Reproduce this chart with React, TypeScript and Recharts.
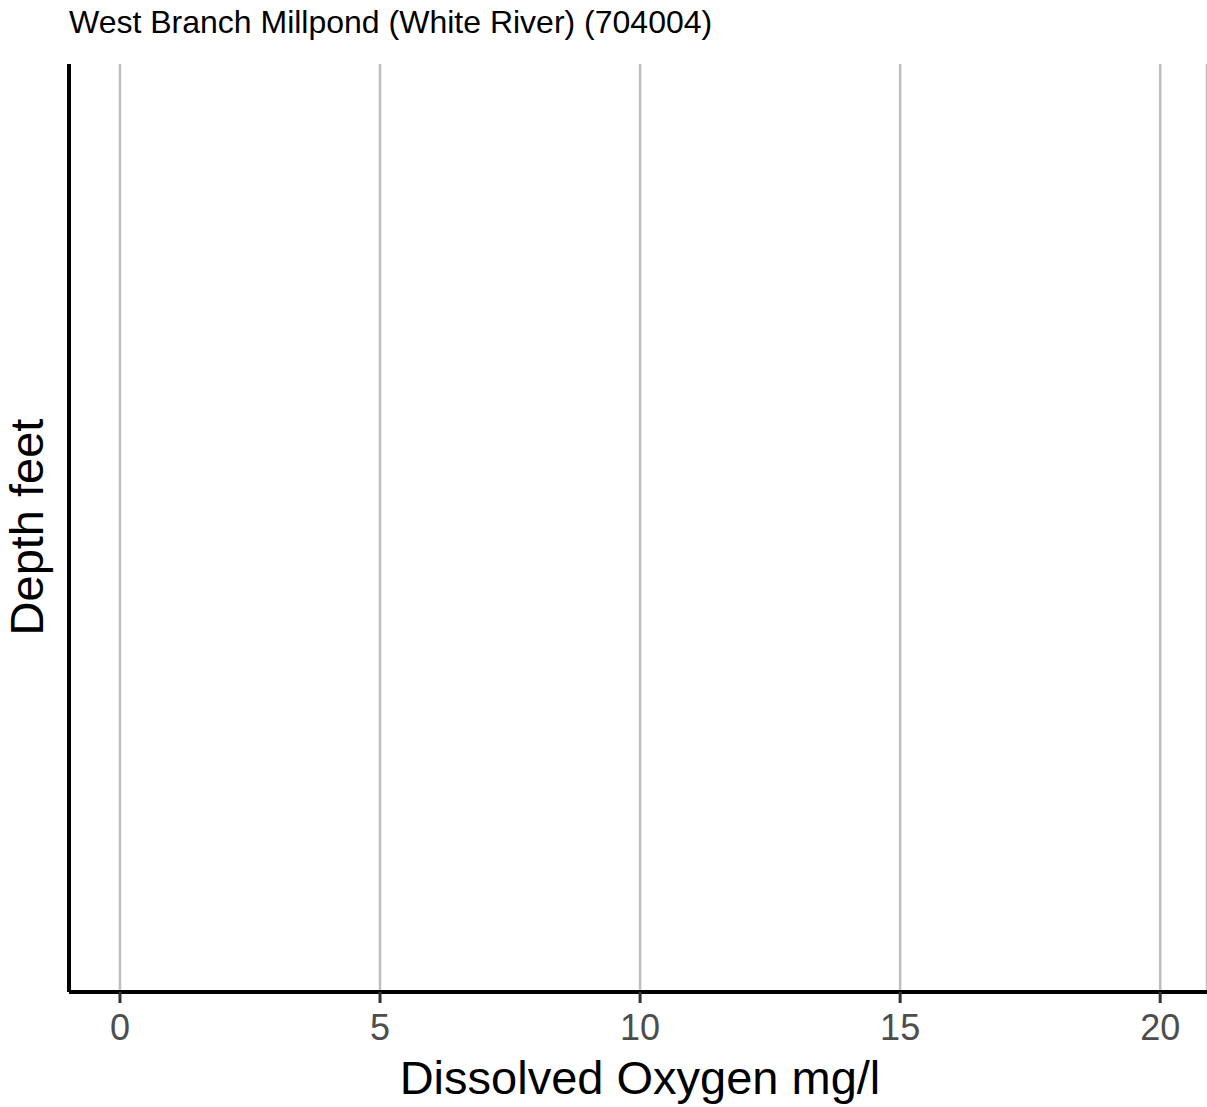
import { ScatterChart, Scatter, XAxis, YAxis, CartesianGrid } from "recharts";

// station profile: no measurements recorded for this site
const depthProfile: { oxygen: number; depth: number }[] = [];
const oxygenTicks = [0, 5, 10, 15, 20];
const oxygenDomain = [-0.98, 20.9];
const depthDomain = [0, 1];

const chartTitle = "West Branch Millpond (White River) (704004)";
const xTitle = "Dissolved Oxygen mg/l";
const yTitle = "Depth feet";

const font = "'Liberation Sans', Arial, Helvetica, sans-serif";

export default function App() {
    return (
        <div style={{ position: "absolute", left: 0, top: 0, width: 1207, height: 1107, background: "#fff" }}>
            <ScatterChart width={1207} height={1107} margin={{ top: 64, right: 0, bottom: 0, left: 59 }}>
                <CartesianGrid horizontal={false} stroke="#bebebe" strokeWidth={2.5} />
                <XAxis
                    type="number"
                    dataKey="oxygen"
                    domain={oxygenDomain}
                    ticks={oxygenTicks}
                    allowDataOverflow
                    height={115}
                    stroke="#333"
                    strokeWidth={3}
                    axisLine={{ stroke: "#000", strokeWidth: 4 }}
                    tickSize={11}
                    tickMargin={11}
                    tick={{ fontSize: 36, fill: "#4d4d4d", fontFamily: font, stroke: "none" }}
                />
                <YAxis
                    type="number"
                    dataKey="depth"
                    domain={depthDomain}
                    width={10}
                    axisLine={{ stroke: "#000", strokeWidth: 4 }}
                    tick={false}
                    tickLine={false}
                />
                <Scatter data={depthProfile} fill="#000" isAnimationActive={false} />
                <text x={69} y={33} fontSize={32} fontFamily={font} fill="#000">
                    {chartTitle}
                </text>
                <text x={640} y={1094} fontSize={47} fontFamily={font} fill="#000" textAnchor="middle">
                    {xTitle}
                </text>
                <text
                    x={43}
                    y={527}
                    fontSize={47}
                    fontFamily={font}
                    fill="#000"
                    textAnchor="middle"
                    transform="rotate(-90 43 527)"
                >
                    {yTitle}
                </text>
            </ScatterChart>
        </div>
    );
}
